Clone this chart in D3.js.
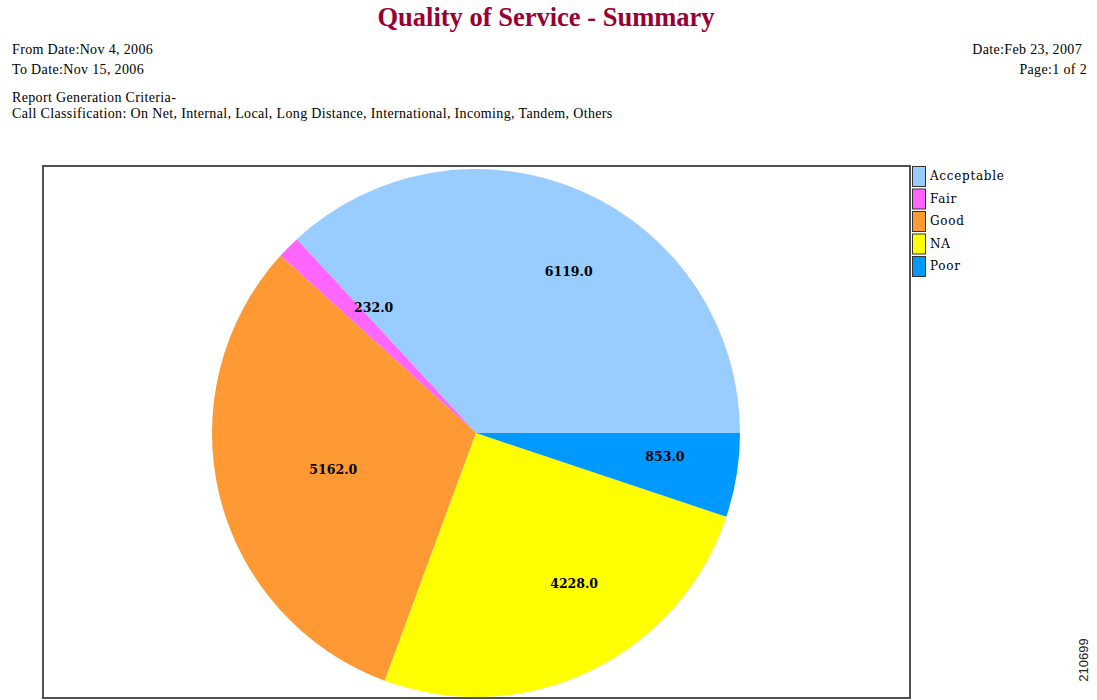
<!DOCTYPE html>
<html>
<head>
<meta charset="utf-8">
<script src="https://cdn.jsdelivr.net/npm/d3@7"></script>
<style>
  body { margin: 0; background: #fff; }
  svg { display: block; }
</style>
</head>
<body>
<svg></svg>
<script>
// data
const categories = ["Acceptable", "Fair", "Good", "NA", "Poor"];
const values = [6119, 232, 5162, 4228, 853];
const colors = ["#99ccff", "#ff66ff", "#ff9933", "#ffff00", "#0099ff"];

const headerLeft = ["From Date:Nov 4, 2006", "To Date:Nov 15, 2006"];
const headerRight = ["Date:Feb 23, 2007", "Page:1 of 2"];
const criteria = ["Report Generation Criteria-",
  "Call Classification: On Net, Internal, Local, Long Distance, International, Incoming, Tandem, Others"];

const W = 1097, H = 700;
const svg = d3.select("svg").attr("width", W).attr("height", H);

// title + header
svg.append("text")
  .attr("x", 546).attr("y", 26)
  .attr("text-anchor", "middle")
  .style("font-family", "Liberation Serif")
  .style("font-weight", "bold")
  .style("font-size", "26.5px")
  .style("fill", "#990033")
  .text("Quality of Service - Summary");

const serif = t => t.style("font-family", "Liberation Serif")
  .style("font-size", "14px")
  .style("letter-spacing", "0.35px")
  .style("fill", "#000");

serif(svg.selectAll(".hl").data(headerLeft).enter().append("text")
  .attr("x", 12).attr("y", (d, i) => 54 + i * 20)
  .text(d => d));

serif(svg.selectAll(".hr").data(headerRight).enter().append("text")
  .attr("x", (d, i) => i === 0 ? 1082 : 1087).attr("y", (d, i) => 54 + i * 20)
  .attr("text-anchor", "end")
  .text(d => d));

serif(svg.selectAll(".cr").data(criteria).enter().append("text")
  .attr("x", 12).attr("y", (d, i) => 102 + i * 16)
  .text(d => d));

// plot frame
const box = { x: 43, y: 166, w: 867, h: 532 };
svg.append("rect")
  .attr("x", box.x).attr("y", box.y)
  .attr("width", box.w).attr("height", box.h)
  .attr("fill", "#fff")
  .attr("stroke", "#505050")
  .attr("stroke-width", 2);

// pie, counter-clockwise from 3 o'clock
const cx = 476, cy = 433, r = 264;
const pie = d3.pie().sort(null)
  .startAngle(Math.PI / 2)
  .endAngle(Math.PI / 2 - 2 * Math.PI);
const arcs = pie(values);
const arc = d3.arc().innerRadius(0).outerRadius(r);
const labelArc = d3.arc().innerRadius(r * 0.65).outerRadius(r * 0.65);

const g = svg.append("g").attr("transform", `translate(${cx},${cy})`);

g.selectAll("path")
  .data(arcs)
  .enter()
  .append("path")
  .attr("d", arc)
  .attr("fill", (d, i) => colors[i]);

g.selectAll("text")
  .data(arcs)
  .enter()
  .append("text")
  .attr("x", d => labelArc.centroid(d)[0])
  .attr("y", d => labelArc.centroid(d)[1])
  .style("font-family", "DejaVu Serif")
  .style("font-weight", "bold")
  .style("font-size", "12.5px")
  .style("fill", "#000")
  .text(d => d.value.toFixed(1));

// legend
const legend = svg.append("g").attr("transform", "translate(912,166)");
const items = legend.selectAll("g")
  .data(categories)
  .enter()
  .append("g")
  .attr("transform", (d, i) => `translate(0, ${i * 22.5})`);

items.append("rect")
  .attr("x", 0.5).attr("y", 0.5)
  .attr("width", 13).attr("height", 20)
  .attr("fill", (d, i) => colors[i])
  .attr("stroke", "#333");

items.append("text")
  .attr("x", 18).attr("y", 14)
  .style("font-family", "DejaVu Serif")
  .style("font-size", "12px")
  .style("letter-spacing", "0.7px")
  .style("fill", "#000")
  .text(d => d);

// figure number
svg.append("text")
  .attr("transform", "translate(1088,660) rotate(-90)")
  .attr("text-anchor", "middle")
  .style("font-family", "Liberation Sans")
  .style("font-size", "13px")
  .style("fill", "#222")
  .text("210699");
</script>
</body>
</html>
